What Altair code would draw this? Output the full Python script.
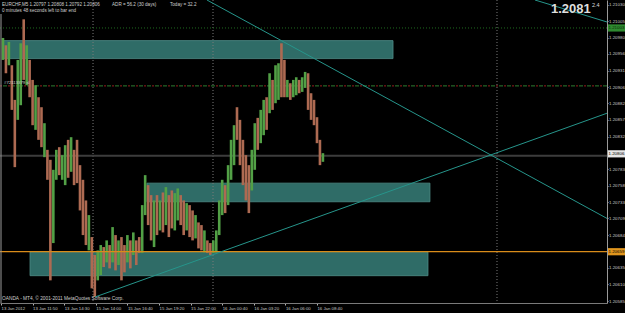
import json
import altair as alt
import pandas as pd

FONT = "Liberation Sans"

# ---- price bars (each bar = 3 x M5 bars), EURCHF ----
bar_high = [1.20980, 1.20969, 1.20974, 1.20939, 1.20887, 1.20947, 1.20972, 1.21008, 1.20969, 1.20947,
            1.20917, 1.20909, 1.20891, 1.20876, 1.20852, 1.20812, 1.20797, 1.20782, 1.20812, 1.20816,
            1.20804, 1.20819, 1.20827, 1.20831, 1.20812, 1.20827, 1.20789, 1.20767, 1.20736, 1.20714,
            1.20681, 1.20654, 1.20661, 1.20669, 1.20666, 1.20676, 1.20669, 1.20696, 1.20684, 1.20676,
            1.20681, 1.20669, 1.20684, 1.20676, 1.20688, 1.20676, 1.20681, 1.20729, 1.20774, 1.20759,
            1.20744, 1.20736, 1.20744, 1.20736, 1.20748, 1.20756, 1.20744, 1.20751, 1.20747, 1.20754,
            1.20744, 1.20736, 1.20732, 1.20729, 1.20721, 1.20714, 1.20703, 1.20699, 1.20691, 1.20676,
            1.20672, 1.20676, 1.20691, 1.20736, 1.20767, 1.20759, 1.20789, 1.20827, 1.20849, 1.20876,
            1.20857, 1.20827, 1.20804, 1.20789, 1.20812, 1.20852, 1.20860, 1.20872, 1.20887, 1.20891,
            1.20927, 1.20917, 1.20939, 1.20942, 1.20972, 1.20947, 1.20917, 1.20912, 1.20917, 1.20921,
            1.20917, 1.20921, 1.20929, 1.20927, 1.20897, 1.20887, 1.20861, 1.20827, 1.20807]
bar_low = [1.20947, 1.20927, 1.20939, 1.20872, 1.20786, 1.20857, 1.20879, 1.20917, 1.20909, 1.20891,
           1.20849, 1.20842, 1.20827, 1.20816, 1.20801, 1.20767, 1.20616, 1.20672, 1.20767, 1.20774,
           1.20767, 1.20759, 1.20770, 1.20779, 1.20759, 1.20762, 1.20721, 1.20684, 1.20669, 1.20661,
           1.20604, 1.20591, 1.20616, 1.20624, 1.20636, 1.20643, 1.20634, 1.20643, 1.20631, 1.20639,
           1.20616, 1.20628, 1.20643, 1.20634, 1.20654, 1.20639, 1.20657, 1.20657, 1.20714, 1.20699,
           1.20676, 1.20666, 1.20684, 1.20691, 1.20688, 1.20699, 1.20681, 1.20694, 1.20691, 1.20706,
           1.20699, 1.20684, 1.20691, 1.20681, 1.20676, 1.20679, 1.20664, 1.20661, 1.20658, 1.20657,
           1.20654, 1.20657, 1.20658, 1.20684, 1.20714, 1.20717, 1.20729, 1.20767, 1.20789, 1.20827,
           1.20789, 1.20759, 1.20736, 1.20717, 1.20751, 1.20782, 1.20812, 1.20822, 1.20834, 1.20842,
           1.20867, 1.20872, 1.20882, 1.20887, 1.20891, 1.20891, 1.20891, 1.20887, 1.20891, 1.20894,
           1.20897, 1.20899, 1.20905, 1.20872, 1.20857, 1.20849, 1.20822, 1.20789, 1.20794]
bar_dir = list("ududduudud" "duddudduud" "uududddddu" "dduudududu" "ddududduud"
               "dudududduu" "ddudduddud" "duuuuduuud" "dddduuduud" "uduudduduu" "duudddddu")

# ---- zones (rectangles) ----
zone_start = [2.0, 147.8, 29.4]
zone_end = [397.0, 434.4, 432.4]
zone_top = [1.20976, 1.20762, 1.20659]
zone_bottom = [1.20949, 1.20734, 1.20623]

# ---- trend lines ----
trend_t1 = [208.6, 540.8, 95.2]
trend_p1 = [1.21037, 1.21037, 1.20591]
trend_t2 = [613.7, 613.7, 613.7]
trend_p2 = [1.20709, 1.21004, 1.20867]

# ---- period separators ----
separator_t = [93.2, 214.7, 502.3]

# ---- horizontal levels ----
current_level = 1.20803
support_level = 1.20659
dashdot_level = 1.20908
alert_level = 1.20995

# ---- axes ----
time_ticks = [0, 32, 64, 96, 128, 160, 192, 224, 256, 288, 320]
time_labels = ["13 Jan 2012", "13 Jan 11:50", "13 Jan 14:30", "15 Jan 14:00", "15 Jan 16:40",
               "15 Jan 19:20", "15 Jan 22:00", "16 Jan 00:40", "16 Jan 03:20", "16 Jan 06:00",
               "16 Jan 08:40"]
price_ticks = [1.20585, 1.20610, 1.20635, 1.20659, 1.20684, 1.20709, 1.20733, 1.20758, 1.20783,
               1.20807, 1.20832, 1.20857, 1.20882, 1.20906, 1.20931, 1.20956, 1.20980, 1.21005, 1.21030]

box_price = [1.20806, 1.20659, 1.20995]
box_label = ["1.20806", "1.20659", "1.21003"]
box_fill = ["#e6e6e6", "#e0961e", "#2f8a2f"]
box_text = ["#000000", "#000000", "#0a2a0a"]

# ---------------------------------------------------------------
bars = pd.DataFrame({"t": [2 + 3 * i for i in range(len(bar_high))],
                     "high": bar_high, "low": bar_low, "dir": bar_dir})
zones = pd.DataFrame({"t1": zone_start, "t2": zone_end, "top": zone_top, "bottom": zone_bottom})
trends = pd.DataFrame({"t1": trend_t1, "p1": trend_p1, "t2": trend_t2, "p2": trend_p2})
seps = pd.DataFrame({"t": separator_t})
boxes = pd.DataFrame({"price": box_price, "label": box_label, "fill": box_fill, "tc": box_text})
boxes["hi"] = boxes["price"] + 0.000054
boxes["lo"] = boxes["price"] - 0.000054
one = pd.DataFrame({"a": [0]})

xs = alt.Scale(domain=[-1.01, 613.7], nice=False, zero=False)
ys = alt.Scale(domain=[1.20582, 1.21037], nice=False, zero=False)

label_expr = json.dumps(time_labels) + "[round(datum.value/32)]"
x_axis = alt.Axis(values=time_ticks, labelExpr=label_expr, labelAlign="left", labelBaseline="top",
                  labelFontSize=4.3, labelFont=FONT, labelColor="#c8c8c8", labelPadding=1,
                  tickSize=2, tickColor="#b0b0b0", domainColor="#7a7a7a", grid=False, title=None,
                  labelOverlap=False, labelFlush=False, orient="bottom")
y_axis = alt.Axis(orient="right", values=price_ticks, format=".5f", labelFontSize=4.4, labelFont=FONT,
                  labelColor="#c8c8c8", labelPadding=0.5, tickSize=1, tickColor="#b0b0b0",
                  domainColor="#9a9a9a", grid=False, title=None, labelOverlap=False, labelFlush=False)


def X(f):
    return alt.X(f, type="quantitative", scale=xs, axis=x_axis)


def Y(f):
    return alt.Y(f, type="quantitative", scale=ys, axis=y_axis)


def YD(v):
    return alt.Y(datum=v, type="quantitative", scale=ys, axis=y_axis)


zone_layer = alt.Chart(zones).mark_rect(fill="#2f6c67", fillOpacity=1, stroke="#4f8d88",
                                         strokeWidth=0.8).encode(
    x=X("t1"), x2="t2", y=Y("top"), y2="bottom")

sep_layer = alt.Chart(seps).mark_rule(color="#7a7a7a", strokeDash=[1, 2], strokeWidth=1).encode(x=X("t"))

cur_layer = alt.Chart(one).mark_rule(color="#3c3c3c", strokeWidth=2).encode(y=YD(current_level))
dd_green = alt.Chart(one).mark_rule(color="#2e7d32", strokeDash=[4, 4], strokeWidth=1).encode(y=YD(dashdot_level))
dd_red = alt.Chart(one).mark_rule(color="#9a2020", strokeDash=[2, 6], strokeDashOffset=-5,
                                  strokeWidth=1).encode(y=YD(dashdot_level))
alert_layer = alt.Chart(one).mark_rule(color="#1f6b1f", strokeDash=[1, 2], strokeWidth=1).encode(y=YD(alert_level))

bar_layer = alt.Chart(bars).mark_rule(strokeWidth=2.6).encode(
    x=X("t"), y=Y("high"), y2="low",
    color=alt.Color("dir:N", scale=alt.Scale(domain=["u", "d"], range=["#52a046", "#ad6a52"]), legend=None))

sup_layer = alt.Chart(one).mark_rule(color="#d98c1a", strokeWidth=1.2).encode(y=YD(support_level))

trend_layer = alt.Chart(trends).mark_rule(color="#26958b", strokeWidth=1, clip=True).encode(
    x=X("t1"), x2="t2", y=Y("p1"), y2="p2")

left_border = alt.Chart(one).mark_rule(color="#9a9a9a", strokeWidth=1).encode(
    x=alt.value(1), y=alt.value(14), y2=alt.value(303))

box_layer = alt.Chart(boxes).mark_rect().encode(
    x=alt.value(608), x2=alt.value(640), y=Y("hi"), y2="lo",
    fill=alt.Color("fill:N", scale=None))
box_text_layer = alt.Chart(boxes).mark_text(align="left", baseline="middle", fontSize=4.4, font=FONT).encode(
    x=alt.value(608.5), y=Y("price"), text="label:N", color=alt.Color("tc:N", scale=None))


def label(txt, x, y, size=4.6, color="#cfcfcf", weight="normal"):
    return alt.Chart(one).mark_text(text=txt, align="left", baseline="middle", fontSize=size,
                                    font=FONT, color=color, fontWeight=weight).encode(
        x=alt.value(x), y=alt.value(y))


texts = [
    label("EURCHF,M5  1.20797 1.20808 1.20792 1.20806", 2, 5),
    label("ADR = 56.2  (30 days)", 112, 5),
    label("Today = 32.2", 170, 5),
    label("0 minutes 48 seconds left to bar end", 2, 10.5),
    label("#72113379 sl", 4, 82.5, size=4.3),
    label("OANDA - MT4, \u00a9 2001-2011 MetaQuotes Software Corp.", 2, 298.5, size=4.8),
    label("1.2081", 551, 8.5, size=13, color="#dedede", weight="bold"),
    label("2.4", 592, 4.5, size=5.5, color="#dedede"),
]

chart = alt.layer(
    zone_layer, sep_layer, cur_layer, alert_layer, dd_green, dd_red, bar_layer, sup_layer,
    trend_layer, left_border, box_layer, box_text_layer, *texts
).properties(
    width=607, height=303,
    padding={"left": 0, "top": 0, "right": 18, "bottom": 10},
    autosize=alt.AutoSizeParams(type="none"),
    background="#000000",
).configure_view(stroke=None)

chart.save("out.html", embed_options={"renderer": "svg", "actions": False})
